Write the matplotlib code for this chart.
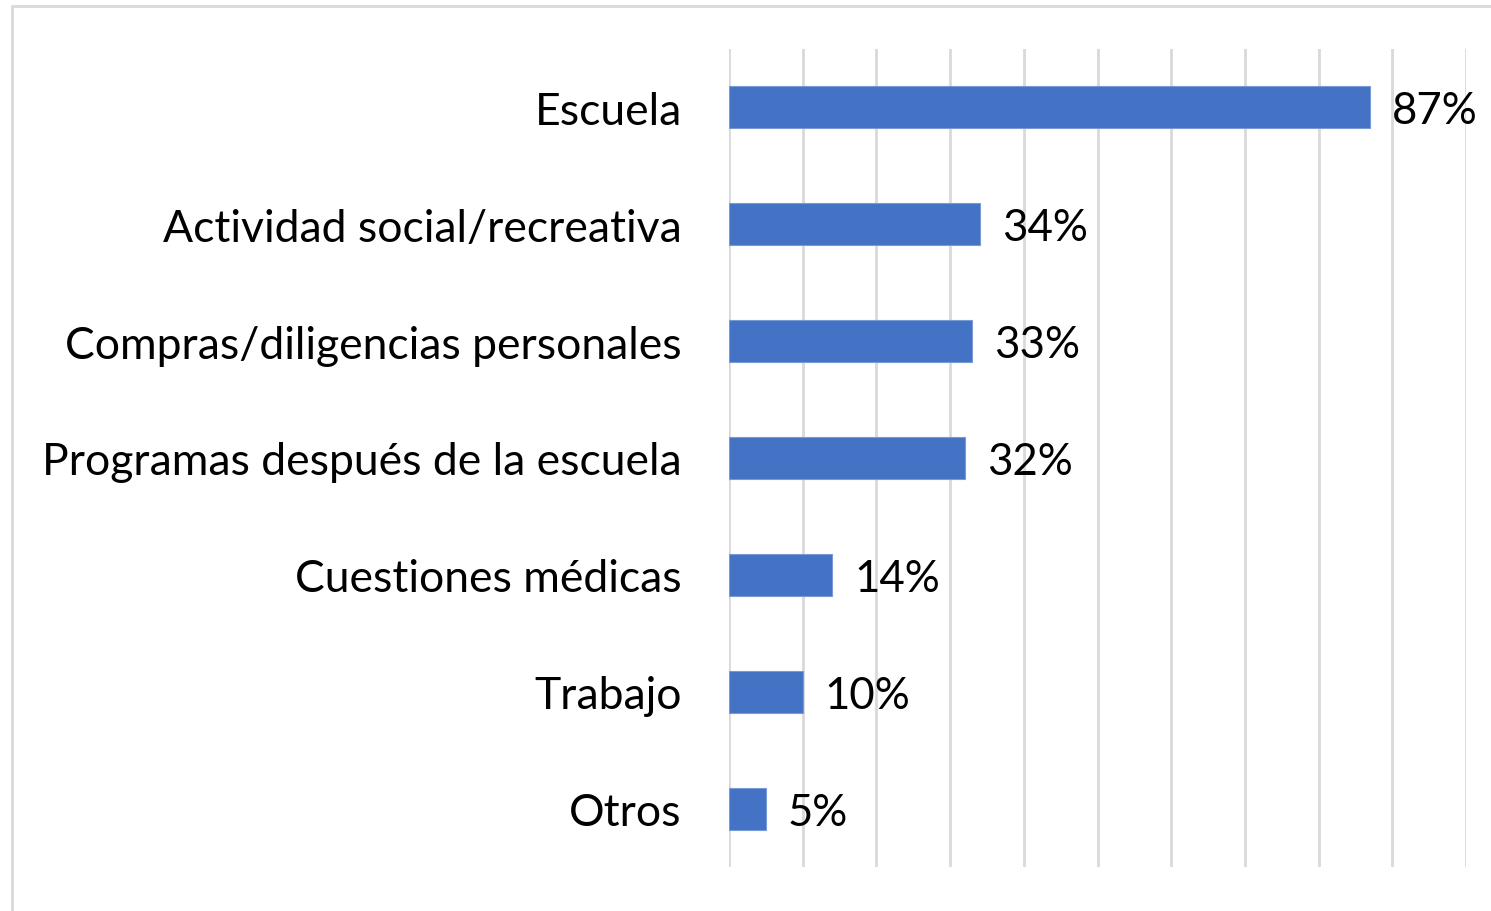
import numpy as np
import matplotlib
matplotlib.use("Agg")
import matplotlib.pyplot as plt
from matplotlib.patches import Rectangle

# chart data
categories = ["Escuela", "Actividad social/recreativa", "Compras/diligencias personales",
              "Programas después de la escuela", "Cuestiones médicas", "Trabajo", "Otros"]
values = [87, 34, 33, 32, 14, 10, 5]
xticks = list(range(0, 101, 10))

plt.rcParams['font.family'] = ['Lato', 'DejaVu Sans']

fig = plt.figure(figsize=(14.91, 9.12), dpi=100)
ax = fig.add_axes([729 / 1491, 1 - 868 / 912, (1466 - 729) / 1491, (868 - 50) / 912])

# light frame around the chart
fig.patches.append(Rectangle((12 / 1491, -0.05), 1.1, 1 - 7 / 912 + 0.05,
                             transform=fig.transFigure, fill=False,
                             edgecolor="#d9d9d9", linewidth=2))

y = np.arange(len(categories))
ax.barh(y, values, height=0.36, color="#4472C4", edgecolor="#7a9ad6", linewidth=0.8, zorder=3)

for yi, v in zip(y, values):
    ax.text(v + 3.0, yi + 0.03, f"{v}%", va="center", ha="left", fontsize=31.5, color="black")

ax.set_xlim(0, 100)
ax.set_ylim(len(categories) - 0.5, -0.5)
ax.set_xticks(xticks)
ax.xaxis.grid(True, color="#d9d9d9", linewidth=2)
ax.set_axisbelow(True)
ax.tick_params(axis="x", length=0, labelbottom=False)
ax.tick_params(axis="y", length=0, pad=34, labelsize=32)
ax.set_yticks(y)
ax.set_yticklabels(categories)
for s in ax.spines.values():
    s.set_visible(False)

fig.savefig("out.png", dpi=100)
